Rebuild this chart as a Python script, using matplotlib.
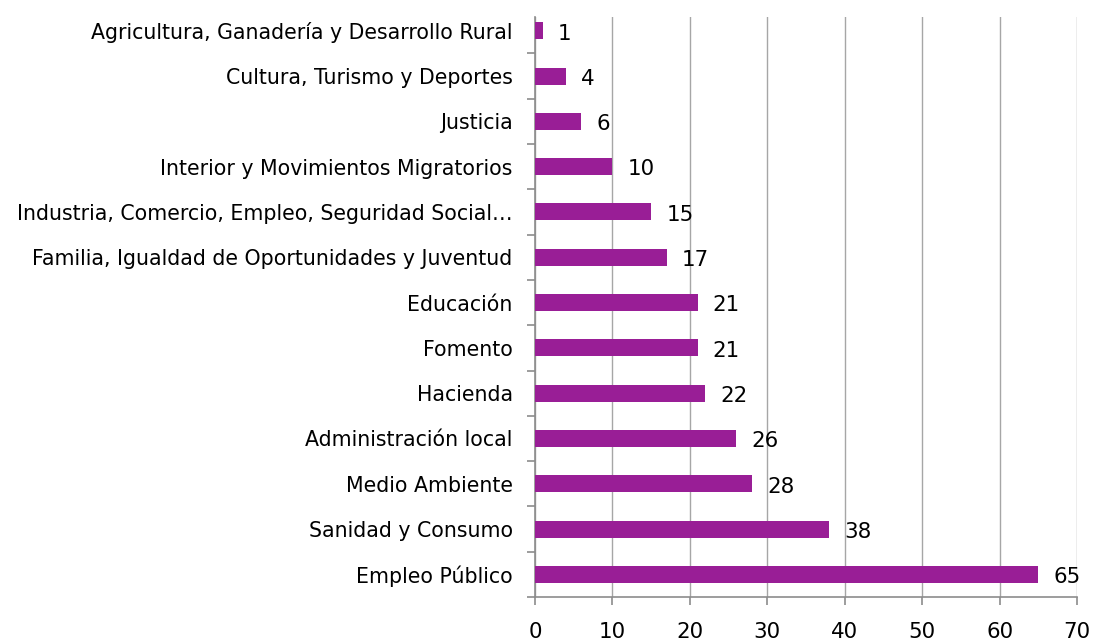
import matplotlib.pyplot as plt
import numpy as np

# data (top to bottom)
categories = [
    'Agricultura, Ganadería y Desarrollo Rural',
    'Cultura, Turismo y Deportes',
    'Justicia',
    'Interior y Movimientos Migratorios',
    'Industria, Comercio, Empleo, Seguridad Social…',
    'Familia, Igualdad de Oportunidades y Juventud',
    'Educación',
    'Fomento',
    'Hacienda',
    'Administración local',
    'Medio Ambiente',
    'Sanidad y Consumo',
    'Empleo Público',
]
values = [1, 4, 6, 10, 15, 17, 21, 21, 22, 26, 28, 38, 65]
xticks = [0, 10, 20, 30, 40, 50, 60, 70]

bar_color = '#991E96'
grid_color = '#A6A6A6'
fs = 14.8

plt.rcParams['font.family'] = ['DejaVu Sans']

fig = plt.figure(figsize=(10.94, 6.42), dpi=100)
ax = fig.add_axes([0.489, 0.07, 0.4955, 0.904])

# bottom category first in matplotlib coordinates
ypos = np.arange(len(categories))[::-1]
ax.barh(ypos, values, height=0.375, color=bar_color, zorder=3)

for y, v in zip(ypos, values):
    ax.annotate(str(v), (v, y), xytext=(11, -2), textcoords='offset points',
                va='center', ha='left', fontsize=15.4, color='black', zorder=4)

ax.set_xlim(0, 70)
ax.set_ylim(-0.5, 12.31)
ax.set_xticks(xticks)
ax.set_yticks(ypos)
ax.set_yticklabels(categories)
ax.set_yticks(np.arange(-0.5, 12.5, 1.0), minor=True)

ax.grid(axis='x', color=grid_color, linewidth=1, zorder=0)
for side in ['top', 'right']:
    ax.spines[side].set_visible(False)
for side in ['left', 'bottom']:
    ax.spines[side].set_color('#8C8C8C')
    ax.spines[side].set_linewidth(1.2)

ax.tick_params(axis='y', which='major', length=0, pad=16, labelsize=fs)
ax.tick_params(axis='y', which='minor', length=6, color='#8C8C8C', width=1.2)
ax.tick_params(axis='x', length=6, color='#8C8C8C', width=1.2, pad=12, labelsize=15.4)

fig.savefig('out.png', dpi=100)
